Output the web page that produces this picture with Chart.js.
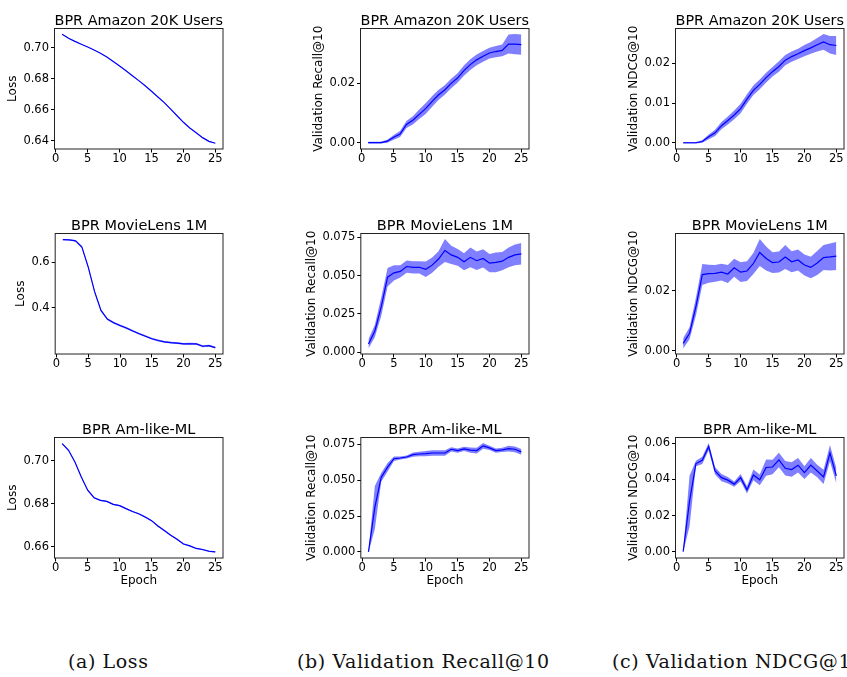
<!DOCTYPE html>
<html>
<head>
<meta charset="utf-8">
<script src="https://cdn.jsdelivr.net/npm/chart.js@4.4.1/dist/chart.umd.min.js"></script>
<style>
  html, body { margin: 0; padding: 0; background: #fff; overflow: hidden; }
  body { width: 847px; height: 677px; position: relative; }
  .panel { position: absolute; }
  .caption {
    position: absolute; top: 652px;
    font-family: 'DejaVu Serif', serif; font-size: 19px; line-height: 18px;
    letter-spacing: 0.6px; white-space: nowrap; color: #111;
  }
</style>
</head>
<body>
<div class="caption" style="left:68px">(a) Loss</div>
<div class="caption" style="left:297px">(b) Validation Recall@10</div>
<div class="caption" style="left:612px">(c) Validation NDCG@10</div>

<script>
// training curves: mean over runs and the std used for the shaded band
const EPOCHS = [1, 2, 3, 4, 5, 6, 7, 8, 9, 10, 11, 12, 13, 14, 15, 16, 17, 18, 19, 20, 21, 22, 23, 24, 25];
const X_TICKS = [0, 5, 10, 15, 20, 25];

const DATASETS = ['BPR Amazon 20K Users', 'BPR MovieLens 1M', 'BPR Am-like-ML'];
const METRICS = ['Loss', 'Validation Recall@10', 'Validation NDCG@10'];

// Amazon 20K users
const LOSS_AMAZON = [0.7088, 0.7062, 0.7042, 0.7024, 0.7006, 0.6987, 0.6966, 0.6941, 0.6913, 0.6884, 0.6853, 0.6821, 0.6789,
                     0.6756, 0.6720, 0.6683, 0.6647, 0.6605, 0.6562, 0.6520, 0.6483, 0.6452, 0.6421, 0.6397, 0.6385];
const LOSS_AMAZON_STD = [0.0002, 0.0002, 0.0002, 0.0002, 0.0002, 0.0002, 0.0002, 0.0002, 0.0002, 0.0002, 0.0002, 0.0002, 0.0002,
                         0.0002, 0.0002, 0.0002, 0.0002, 0.0002, 0.0002, 0.0002, 0.0002, 0.0002, 0.0002, 0.0002, 0.0002];
const RECALL_AMAZON = [0.0000, 0.0000, 0.0000, 0.0005, 0.0018, 0.0029, 0.0061, 0.0075, 0.0095, 0.0114, 0.0138, 0.0160, 0.0177,
                       0.0199, 0.0217, 0.0242, 0.0262, 0.0278, 0.0290, 0.0301, 0.0306, 0.0310, 0.0331, 0.0331, 0.0329];
const RECALL_AMAZON_STD = [0.0003, 0.0003, 0.0003, 0.0005, 0.0008, 0.0010, 0.0012, 0.0014, 0.0016, 0.0018, 0.0018, 0.0017, 0.0016,
                           0.0016, 0.0016, 0.0017, 0.0018, 0.0018, 0.0018, 0.0018, 0.0019, 0.0020, 0.0032, 0.0034, 0.0034];
const NDCG_AMAZON = [0.0000, 0.0000, 0.0000, 0.0003, 0.0015, 0.0025, 0.0043, 0.0056, 0.0070, 0.0086, 0.0110, 0.0132, 0.0147,
                     0.0164, 0.0179, 0.0192, 0.0208, 0.0217, 0.0224, 0.0232, 0.0239, 0.0247, 0.0254, 0.0247, 0.0245];
const NDCG_AMAZON_STD = [0.0002, 0.0002, 0.0002, 0.0003, 0.0006, 0.0008, 0.0009, 0.0010, 0.0011, 0.0012, 0.0012, 0.0012, 0.0012,
                         0.0012, 0.0012, 0.0013, 0.0013, 0.0013, 0.0013, 0.0014, 0.0015, 0.0017, 0.0020, 0.0022, 0.0024];

// MovieLens 1M
const LOSS_ML = [0.698, 0.697, 0.693, 0.666, 0.578, 0.470, 0.388, 0.350, 0.334, 0.322, 0.311, 0.298, 0.286,
                 0.275, 0.264, 0.256, 0.250, 0.247, 0.245, 0.241, 0.242, 0.241, 0.231, 0.234, 0.225];
const LOSS_ML_STD = [0.003, 0.003, 0.003, 0.004, 0.006, 0.006, 0.005, 0.004, 0.004, 0.004, 0.004, 0.004, 0.004,
                     0.004, 0.004, 0.004, 0.004, 0.004, 0.004, 0.004, 0.004, 0.004, 0.004, 0.004, 0.004];
const RECALL_ML = [0.0054, 0.0139, 0.0296, 0.0490, 0.0519, 0.0528, 0.0560, 0.0555, 0.0555, 0.0542, 0.0569, 0.0609, 0.0665,
                   0.0636, 0.0620, 0.0591, 0.0620, 0.0598, 0.0613, 0.0582, 0.0587, 0.0595, 0.0620, 0.0636, 0.0643];
const RECALL_ML_STD = [0.0030, 0.0040, 0.0060, 0.0060, 0.0050, 0.0040, 0.0040, 0.0040, 0.0040, 0.0050, 0.0050, 0.0050, 0.0075,
                       0.0060, 0.0055, 0.0055, 0.0065, 0.0060, 0.0060, 0.0060, 0.0065, 0.0060, 0.0065, 0.0068, 0.0070];
const NDCG_ML = [0.0024, 0.0058, 0.0147, 0.0254, 0.0257, 0.0258, 0.0262, 0.0256, 0.0277, 0.0262, 0.0266, 0.0291, 0.0328,
                 0.0308, 0.0294, 0.0296, 0.0313, 0.0297, 0.0303, 0.0286, 0.0278, 0.0293, 0.0311, 0.0313, 0.0316];
const NDCG_ML_STD = [0.0017, 0.0020, 0.0030, 0.0035, 0.0030, 0.0028, 0.0028, 0.0030, 0.0030, 0.0033, 0.0033, 0.0035, 0.0045,
                     0.0040, 0.0035, 0.0035, 0.0040, 0.0035, 0.0035, 0.0035, 0.0036, 0.0040, 0.0042, 0.0045, 0.0047];

// Amazon-like MovieLens
const LOSS_AMLIKE = [0.7081, 0.7050, 0.6995, 0.6925, 0.6863, 0.6828, 0.6816, 0.6811, 0.6797, 0.6791, 0.6777, 0.6764, 0.6753,
                     0.6738, 0.6721, 0.6696, 0.6675, 0.6653, 0.6634, 0.6612, 0.6603, 0.6591, 0.6586, 0.6578, 0.6575];
const LOSS_AMLIKE_STD = [0.0003, 0.0003, 0.0003, 0.0003, 0.0003, 0.0003, 0.0003, 0.0003, 0.0003, 0.0003, 0.0003, 0.0003, 0.0003,
                         0.0003, 0.0003, 0.0003, 0.0003, 0.0003, 0.0003, 0.0003, 0.0003, 0.0003, 0.0003, 0.0003, 0.0003];
const RECALL_AMLIKE = [0.0000, 0.0310, 0.0520, 0.0591, 0.0650, 0.0655, 0.0662, 0.0679, 0.0683, 0.0686, 0.0690, 0.0690, 0.0690,
                       0.0716, 0.0707, 0.0719, 0.0710, 0.0707, 0.0740, 0.0726, 0.0707, 0.0712, 0.0721, 0.0716, 0.0698];
const RECALL_AMLIKE_STD = [0.0005, 0.0150, 0.0030, 0.0030, 0.0015, 0.0010, 0.0010, 0.0015, 0.0015, 0.0018, 0.0020, 0.0020, 0.0020,
                           0.0015, 0.0015, 0.0015, 0.0018, 0.0020, 0.0020, 0.0015, 0.0015, 0.0015, 0.0020, 0.0020, 0.0020];
const NDCG_AMLIKE = [0.0000, 0.0280, 0.0488, 0.0506, 0.0582, 0.0447, 0.0410, 0.0396, 0.0374, 0.0410, 0.0342, 0.0425, 0.0398,
                     0.0466, 0.0469, 0.0508, 0.0462, 0.0455, 0.0479, 0.0438, 0.0479, 0.0447, 0.0414, 0.0546, 0.0420];
const NDCG_AMLIKE_STD = [0.0005, 0.0140, 0.0015, 0.0020, 0.0020, 0.0020, 0.0020, 0.0018, 0.0015, 0.0020, 0.0020, 0.0030, 0.0030,
                         0.0045, 0.0040, 0.0040, 0.0040, 0.0040, 0.0040, 0.0035, 0.0040, 0.0035, 0.0040, 0.0045, 0.0042];

// y tick values per panel, row by row
const Y_TICKS_LOSS_AMAZON = [0.64, 0.66, 0.68, 0.70];
const Y_TICKS_RECALL_AMAZON = [0.00, 0.02];
const Y_TICKS_NDCG_AMAZON = [0.00, 0.01, 0.02];
const Y_TICKS_LOSS_ML = [0.4, 0.6];
const Y_TICKS_RECALL_ML = [0.000, 0.025, 0.050, 0.075];
const Y_TICKS_NDCG_ML = [0.00, 0.02];
const Y_TICKS_LOSS_AMLIKE = [0.66, 0.68, 0.70];
const Y_TICKS_RECALL_AMLIKE = [0.000, 0.025, 0.050, 0.075];
const Y_TICKS_NDCG_AMLIKE = [0.00, 0.02, 0.04, 0.06];

// plot box placement on the page
const COL_X = [55, 360.5, 676];
const ROW_Y = [28, 233, 437.5];
const BOX_W = 168;
const BOX_H = 120;

const FONT = "'DejaVu Sans', sans-serif";
const LINE_BLUE = '#0000ff';
const BAND_BLUE = 'rgba(0, 0, 255, 0.5)';

const panels = [
  { row: 0, col: 0, mean: LOSS_AMAZON,   std: LOSS_AMAZON_STD,   yTicks: Y_TICKS_LOSS_AMAZON,   digits: 2 },
  { row: 0, col: 1, mean: RECALL_AMAZON, std: RECALL_AMAZON_STD, yTicks: Y_TICKS_RECALL_AMAZON, digits: 2 },
  { row: 0, col: 2, mean: NDCG_AMAZON,   std: NDCG_AMAZON_STD,   yTicks: Y_TICKS_NDCG_AMAZON,   digits: 2 },
  { row: 1, col: 0, mean: LOSS_ML,       std: LOSS_ML_STD,       yTicks: Y_TICKS_LOSS_ML,       digits: 1 },
  { row: 1, col: 1, mean: RECALL_ML,     std: RECALL_ML_STD,     yTicks: Y_TICKS_RECALL_ML,     digits: 3 },
  { row: 1, col: 2, mean: NDCG_ML,       std: NDCG_ML_STD,       yTicks: Y_TICKS_NDCG_ML,       digits: 2 },
  { row: 2, col: 0, mean: LOSS_AMLIKE,   std: LOSS_AMLIKE_STD,   yTicks: Y_TICKS_LOSS_AMLIKE,   digits: 2 },
  { row: 2, col: 1, mean: RECALL_AMLIKE, std: RECALL_AMLIKE_STD, yTicks: Y_TICKS_RECALL_AMLIKE, digits: 3 },
  { row: 2, col: 2, mean: NDCG_AMLIKE,   std: NDCG_AMLIKE_STD,   yTicks: Y_TICKS_NDCG_AMLIKE,   digits: 2 },
];

// black frame round the plot area, like matplotlib spines
const framePlugin = {
  id: 'frame',
  afterDatasetsDraw(chart) {
    const { ctx, chartArea: a } = chart;
    ctx.save();
    ctx.strokeStyle = '#222';
    ctx.lineWidth = 1;
    ctx.strokeRect(a.left, a.top, a.right - a.left, a.bottom - a.top);
    ctx.restore();
  }
};

const toPoints = arr => arr.map((v, i) => ({ x: EPOCHS[i], y: v }));

function buildPanel(p) {
  const wrap = document.createElement('div');
  wrap.className = 'panel';
  const canvas = document.createElement('canvas');
  canvas.width = 260;
  canvas.height = 200;
  wrap.appendChild(canvas);
  document.body.appendChild(wrap);

  const upper = p.mean.map((m, i) => m + p.std[i]);
  const lower = p.mean.map((m, i) => m - p.std[i]);
  const lo = Math.min(...lower);
  const hi = Math.max(...upper);
  const margin = (hi - lo) * 0.05;
  const lastRow = p.row === 2;

  const chart = new Chart(canvas, {
    type: 'line',
    data: {
      datasets: [
        { data: toPoints(p.mean), borderColor: LINE_BLUE, borderWidth: 1.2, pointRadius: 0, fill: false, order: 0 },
        { data: toPoints(upper), borderColor: 'rgba(0,0,0,0)', borderWidth: 0, pointRadius: 0,
          backgroundColor: BAND_BLUE, fill: '+1', order: 1 },
        { data: toPoints(lower), borderColor: 'rgba(0,0,0,0)', borderWidth: 0, pointRadius: 0, fill: false, order: 2 },
      ]
    },
    options: {
      responsive: false,
      maintainAspectRatio: false,
      animation: false,
      devicePixelRatio: 1,
      events: [],
      layout: { padding: { right: 2, bottom: 1 } },
      plugins: {
        legend: { display: false },
        tooltip: { enabled: false },
        title: {
          display: true,
          text: DATASETS[p.row],
          fullSize: false,
          color: '#000',
          font: { family: FONT, size: 14.5, weight: 'normal', lineHeight: 1 },
          padding: { top: 0, bottom: 0 }
        }
      },
      scales: {
        x: {
          type: 'linear',
          min: -0.2,
          max: 26.2,
          afterBuildTicks: axis => { axis.ticks = X_TICKS.map(v => ({ value: v })); },
          ticks: {
            color: '#000',
            font: { family: FONT, size: 11.5, lineHeight: 1 },
            padding: 1,
            maxRotation: 0,
            autoSkip: false,
            callback: v => String(v)
          },
          grid: { display: true, drawOnChartArea: false, drawTicks: true, tickLength: 3.5, tickColor: '#000', tickWidth: 1 },
          border: { display: false },
          title: {
            display: lastRow,
            text: 'Epoch',
            color: '#000',
            font: { family: FONT, size: 12, lineHeight: 1 },
            padding: { top: 0, bottom: 0 }
          }
        },
        y: {
          type: 'linear',
          min: lo - margin,
          max: hi + margin,
          afterBuildTicks: axis => { axis.ticks = p.yTicks.map(v => ({ value: v })); },
          ticks: {
            color: '#000',
            font: { family: FONT, size: 11.5 },
            padding: 2,
            autoSkip: false,
            callback: v => Number(v).toFixed(p.digits)
          },
          grid: { display: true, drawOnChartArea: false, drawTicks: true, tickLength: 3.5, tickColor: '#000', tickWidth: 1 },
          border: { display: false },
          title: {
            display: true,
            text: METRICS[p.col],
            color: '#000',
            font: { family: FONT, size: 12, lineHeight: 1.2 },
            padding: { top: 0, bottom: 1 }
          }
        }
      }
    },
    plugins: [framePlugin]
  });

  // size the canvas so the plot box has the wanted size, then move it into place
  for (let k = 0; k < 2; k++) {
    const a = chart.chartArea;
    const w = Math.round(a.left + BOX_W + (chart.width - a.right));
    const h = Math.round(a.top + BOX_H + (chart.height - a.bottom));
    chart.resize(w, h);
  }
  const a = chart.chartArea;
  wrap.style.left = (COL_X[p.col] - a.left) + 'px';
  wrap.style.top = (ROW_Y[p.row] - a.top) + 'px';
}

panels.forEach(buildPanel);
</script>
</body>
</html>
